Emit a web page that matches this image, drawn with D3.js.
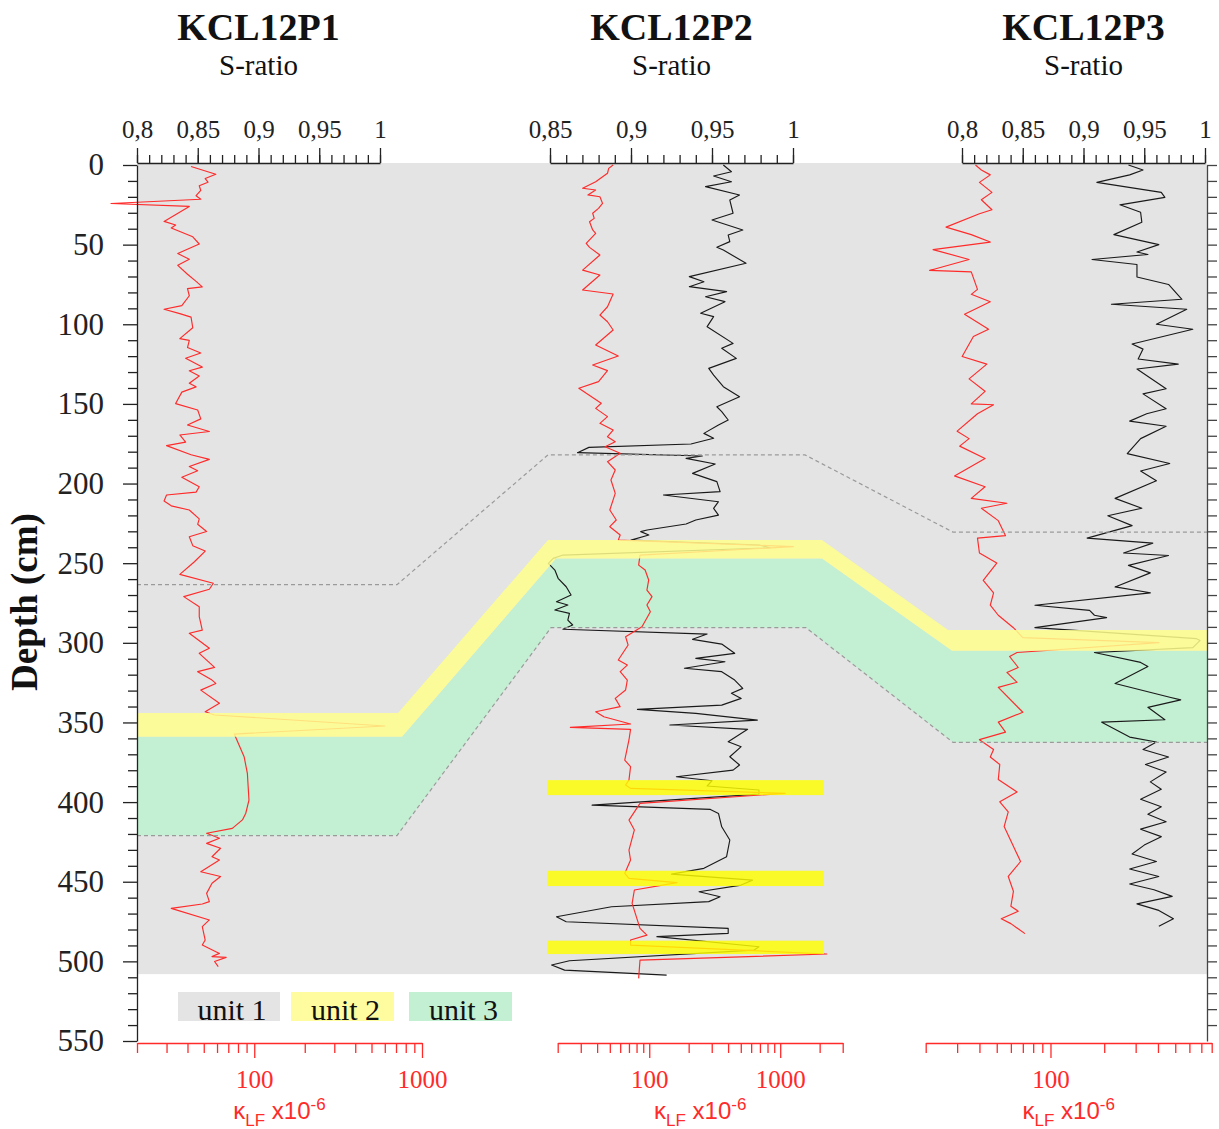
<!DOCTYPE html>
<html>
<head>
<meta charset="utf-8">
<script src="https://cdn.jsdelivr.net/npm/d3@7"></script>
<style>
  body { margin: 0; background: #fff; }
  svg { display: block; }
</style>
</head>
<body>
<svg id="chart" width="1219" height="1129"></svg>
<script>
// ---------------- data ----------------
const cores = ["KCL12P1", "KCL12P2", "KCL12P3"];
const sRatioDomains = [[0.8, 1], [0.85, 1], [0.8, 1]];
const kappaDomains = [[20, 1000], [20, 3000], [20, 800]];
const sRatioMajorTicks = [[0.8, 0.85, 0.9, 0.95, 1], [0.85, 0.9, 0.95, 1], [0.8, 0.85, 0.9, 0.95, 1]];
const kappaLabelTicks = [100, 1000];
const depthMajorTicks = [0, 50, 100, 150, 200, 250, 300, 350, 400, 450, 500, 550];

// unit boundaries per core (cm)
const upperBoundary = [263.5, 182, 230.5];
const unit2Top = [344, 235.5, 292];
const unit3Top = [359, 247, 305];
const unit3Base = [421, 290.5, 362.5];
const coreBase = 508;
// thin unit-2 layers in KCL12P2 (top, bottom, cm)
const p2Layers = [[386.2, 395.6], [443.1, 452.7], [487.0, 495.4]];
const legendLabels = ["unit 1", "unit 2", "unit 3"];

// magnetic susceptibility [depth cm, kappa x1e-6]
const p1Kappa = [[0.9,42],[5.8,59],[8.5,51],[10.8,53],[13.0,47],[16.0,48],[19.3,45],[21.5,48],[24.2,14],[26.0,41],[35.4,29],[37.7,34],[39.5,32],[45.1,43],[49.6,47],[55.6,35],[59.2,41],[63.0,35],[68.6,40],[73.1,45],[76.5,49],[77.6,40],[82.1,41],[88.3,37],[90.6,29],[93.3,36],[95.5,42],[102.2,43],[109.0,36],[110.1,41],[114.6,40],[118.0,48],[121.3,39],[126.9,49],[129.2,41],[132.5,47],[137.0,41],[139.3,45],[142.6,37],[149.8,34],[153.8,46],[159.4,48],[163.2,40],[167.3,54],[169.5,36],[174.0,39],[176.2,30],[181.9,42],[184.8,54],[189.3,41],[192.0,46],[196.0,37],[202.0,47],[205.4,45],[207.2,30],[211.0,29],[214.0,32],[216.6,41],[222.2,47],[225.6,46],[230.1,52],[233.4,41],[239.0,43],[242.4,51],[249.1,44],[257.0,36],[262.6,57],[266.4,54],[271.0,38],[277.3,47],[283.6,47],[292.0,49],[294.0,41],[303.4,54],[306.6,47],[315.4,58],[318.1,46],[323.4,56],[325.5,59],[329.7,48],[338.0,62],[343.3,51],[345.3,58],[352.2,600],[357.3,76],[371.5,87],[382.0,91],[398.7,93],[407.0,89],[411.2,85],[416.5,74],[419.6,52],[422.7,62],[425.9,52],[429.0,63],[434.3,56],[436.4,62],[443.7,48],[446.7,63],[451.0,56],[457.3,52],[462.5,54],[464.0,49],[466.7,32],[474.0,54],[478.2,49],[486.6,51],[489.7,49],[495.0,62],[497.0,56],[497.5,68],[500.1,58],[503.3,61]];

const p2Kappa = [[0,53],[2.1,49],[5.2,48],[10.5,39],[14.6,31],[15.7,39],[18.8,34],[19.9,42],[24.1,44],[27.2,41],[30.3,37],[33.5,38],[35.6,35],[40.8,37],[42.9,39],[49.2,33],[51.7,35],[56.5,42],[66.0,31],[69.1,42],[78.5,31],[81.0,53],[89.0,48],[94.2,42],[98.4,48],[103.6,53],[113.0,39],[119.9,58],[125.6,37],[129.1,48],[136.0,41],[140.2,29],[149.6,43],[152.8,39],[158.0,48],[162.2,42],[166.4,53],[170.6,48],[173.7,55],[176.9,46],[181.0,60],[186.3,48],[191.5,55],[197.8,51],[206.2,55],[216.6,50],[222.9,56],[227.1,50],[232.3,60],[235.5,58],[239.6,1260],[244.9,85],[251.2,83],[254.3,93],[260.6,99],[266.9,96],[271.0,105],[276.3,96],[280.5,102],[289.9,88],[296.2,66],[301.4,69],[310.8,58],[314.0,68],[318.1,60],[323.4,68],[329.6,66],[334.9,55],[340.1,60],[343.3,39],[346.4,45],[351.0,72],[353.1,25],[354.3,72],[361.0,70],[373.6,65],[377.8,72],[386.2,70],[389.3,66],[391.4,72],[394.5,1090],[400.8,85],[411.3,70],[417.5,77],[430.1,70],[436.4,72],[444.8,65],[447.9,70],[450.6,163],[455.2,77],[463.6,74],[479.3,85],[483.5,96],[486.6,72],[489.8,72],[495.4,2270],[499.2,85],[510.7,83]];

const p3Kappa = [[0,38],[3.1,41],[6.2,46],[10.9,40],[17.2,47],[21.8,41],[28.1,47],[30.6,40],[39.0,26],[43.7,36],[48.4,46],[53.1,22],[59.3,35],[66.2,21],[67.1,36],[78.1,39],[81.2,36],[85.9,46],[93.7,33],[103.1,45],[107.7,37],[120.2,32],[125.0,44],[134.3,35],[142.1,43],[150.0,36],[150.5,48],[156.2,39],[167.1,30],[171.8,35],[176.5,31],[184.3,43],[195.2,29],[202,43],[209.3,36],[212.4,57],[215.5,41],[223.3,51],[232.7,56],[234.3,39],[243.6,40],[249.9,50],[260.8,42],[268.6,48],[276.4,46],[282.7,51],[290.5,62],[296.7,70],[299.9,405],[306.1,65],[308.6,59],[315.5,66],[318.6,57],[324.8,65],[328.0,51],[343.6,70],[349.8,51],[356.1,56],[360.8,40],[367.0,48],[371.7,46],[376.4,52],[385.8,51],[393.6,65],[399.8,52],[406.1,58],[415.4,55],[437.3,68],[446.7,58],[456.0,62],[465.4,60],[468.5,66],[473.2,53],[476.3,60],[482.6,72]];

// S-ratio [depth cm, S-ratio]
const p2SRatio = [[0,0.957],[4.2,0.962],[6.9,0.951],[10.5,0.962],[13.6,0.946],[18.8,0.967],[22.0,0.961],[30.3,0.963],[34.5,0.950],[40.8,0.969],[44.0,0.960],[48.1,0.961],[51.7,0.953],[53.4,0.957],[61.7,0.971],[70.1,0.936],[73.3,0.945],[76.4,0.936],[79.5,0.959],[82.7,0.946],[85.8,0.958],[93.1,0.943],[95.2,0.951],[101.5,0.947],[112.0,0.963],[115.1,0.956],[121.4,0.965],[127.7,0.948],[131.9,0.951],[139.2,0.957],[145.5,0.967],[151.8,0.953],[154.9,0.956],[160.1,0.960],[163.3,0.954],[168.5,0.945],[171.6,0.951],[175.2,0.937],[177.3,0.874],[180.6,0.867],[182.7,0.944],[184.2,0.934],[187.7,0.952],[193.6,0.938],[198.8,0.953],[205.1,0.955],[207.2,0.920],[211.4,0.954],[215.6,0.951],[219.8,0.954],[222.9,0.940],[225.4,0.934],[229.2,0.910],[230.2,0.906],[232.3,0.911],[235.5,0.900],[238.6,0.979],[240.3,0.986],[244.9,0.858],[247.0,0.852],[250.1,0.849],[254.3,0.853],[259.5,0.855],[264.8,0.860],[270,0.863],[274.2,0.854],[276.3,0.861],[279.4,0.853],[281.5,0.862],[285.7,0.861],[288.8,0.864],[291.5,0.858],[294.5,0.947],[297.8,0.938],[300.8,0.956],[306.6,0.964],[309.8,0.940],[311.9,0.958],[316.0,0.933],[318.1,0.956],[323.4,0.964],[328.6,0.969],[331.7,0.962],[334.9,0.968],[339.1,0.956],[341.8,0.904],[344.3,0.940],[348.5,0.978],[351.6,0.924],[354.3,0.972],[362.1,0.960],[365.2,0.968],[371.5,0.961],[376.7,0.967],[379.9,0.963],[384.1,0.928],[386.6,0.950],[389.9,0.947],[392.4,0.979],[395,0.979],[401.9,0.876],[404.6,0.949],[407.1,0.954],[415.5,0.956],[423.8,0.961],[434.3,0.959],[441.6,0.945],[445.2,0.925],[449.0,0.975],[452.1,0.968],[456.3,0.942],[459.4,0.955],[462.5,0.948],[465.7,0.888],[472.0,0.854],[475.1,0.860],[479.3,0.960],[482.4,0.960],[484.5,0.916],[490.8,0.979],[492.9,0.976],[499.6,0.862],[502.3,0.851],[505.5,0.859],[508.6,0.922]];

const p3SRatio = [[0,0.937],[3.1,0.949],[6.2,0.938],[10.9,0.911],[17.2,0.964],[20.3,0.967],[25.0,0.930],[29.7,0.947],[35.9,0.948],[43.7,0.925],[50.0,0.962],[54.6,0.944],[56.2,0.953],[59.3,0.907],[62.5,0.944],[70.3,0.944],[75.0,0.970],[84.3,0.981],[87.4,0.923],[90.6,0.985],[100.0,0.960],[103.1,0.990],[112.4,0.940],[115.6,0.949],[121.8,0.945],[125.0,0.978],[128.1,0.944],[140.5,0.968],[143.7,0.949],[153.0,0.968],[156.2,0.952],[160.8,0.938],[164.0,0.968],[171.8,0.947],[181.2,0.936],[187.4,0.971],[192.1,0.947],[198.3,0.960],[209.3,0.926],[215.5,0.948],[220.2,0.920],[226.4,0.940],[234.3,0.903],[237.4,0.957],[243.6,0.933],[245.2,0.970],[251.4,0.937],[256.1,0.955],[264.9,0.926],[268.6,0.955],[276.4,0.860],[279.6,0.905],[282.7,0.909],[284.2,0.919],[290.5,0.860],[297.4,0.993],[298.5,0.996],[303.0,0.990],[306.1,0.909],[312.3,0.947],[314.8,0.953],[325.5,0.926],[334.2,0.971],[335.8,0.980],[340.5,0.953],[348.3,0.967],[349.8,0.915],[359.2,0.938],[362.3,0.960],[367.0,0.949],[371.7,0.970],[376.4,0.951],[381.1,0.968],[387.3,0.955],[392.0,0.964],[398.2,0.947],[402.9,0.964],[407.6,0.953],[412.3,0.968],[417.0,0.947],[421.7,0.964],[427.0,0.950],[432.6,0.940],[437.3,0.960],[442.0,0.938],[446.7,0.962],[451.4,0.938],[455.0,0.958],[459.2,0.973],[463.9,0.944],[468.0,0.962],[473.2,0.974],[477.9,0.962]];

const kappaSeries = [p1Kappa, p2Kappa, p3Kappa];
const sRatioSeries = [null, p2SRatio, p3SRatio];

// ---------------- layout ----------------
const svg = d3.select("#chart");
const serif = "'Liberation Serif', 'Times New Roman', serif";
const sans = "'Liberation Sans', Arial, sans-serif";
const RED = "#ff2a2a";
const plotLeft = 137, plotRight = 1207;

const y = d3.scaleLinear().domain([0, 550]).range([165, 1041]);

const panelLayout = [
  { sRange: [137, 380], kRange: [137, 422], cx: 258.5 },
  { sRange: [550, 793], kRange: [557.7, 842.7], cx: 671.5 },
  { sRange: [962, 1205], kRange: [925.7, 1211.7], cx: 1083.5 }
];
const sScales = panelLayout.map((p, i) => d3.scaleLinear().domain(sRatioDomains[i]).range(p.sRange));
const kScales = panelLayout.map((p, i) => d3.scaleLog().domain(kappaDomains[i]).range(p.kRange));

// bend positions of the correlated unit boundaries between the cores
const bends = {
  upper: [397, 548, 805, 953],
  u2top: [398, 548, 822, 948],
  u3top: [402, 556, 822, 952],
  u3base: [397, 551, 806, 953]
};
function boundary(depths, b) {
  return [[plotLeft, depths[0]], [b[0], depths[0]], [b[1], depths[1]], [b[2], depths[1]], [b[3], depths[2]], [plotRight, depths[2]]];
}
const bLine = d3.line().x(d => d[0]).y(d => y(d[1]));
function band(top, bottom) {
  return bLine(top.concat(bottom.slice().reverse())) + "Z";
}

const upperLine = boundary(upperBoundary, bends.upper);
const u2TopLine = boundary(unit2Top, bends.u2top);
const u3TopLine = boundary(unit3Top, bends.u3top);
const u3BaseLine = boundary(unit3Base, bends.u3base);

// unit 1 background
svg.append("rect")
  .attr("x", plotLeft).attr("y", y(0) - 2)
  .attr("width", plotRight - plotLeft).attr("height", y(coreBase) - y(0) + 2)
  .attr("fill", "#e4e4e4");

// unit 3
svg.append("path").attr("d", band(u3TopLine, u3BaseLine)).attr("fill", "#c3efd3");

// traces
panelLayout.forEach((p, i) => {
  const s = sRatioSeries[i];
  if (s) {
    svg.append("path").datum(s)
      .attr("d", d3.line().x(d => sScales[i](d[1])).y(d => y(d[0])))
      .attr("fill", "none").attr("stroke", "#1a1a1a").attr("stroke-width", 1.15)
      .attr("stroke-linejoin", "round");
  }
  svg.append("path").datum(kappaSeries[i])
    .attr("d", d3.line().x(d => kScales[i](d[1])).y(d => y(d[0])))
    .attr("fill", "none").attr("stroke", RED).attr("stroke-width", 1.15)
    .attr("stroke-linejoin", "round");
});

// unit 2 (semi-transparent, lies over the curves)
svg.append("path").attr("d", band(u2TopLine, u3TopLine))
  .attr("fill", "#ffff8c").attr("fill-opacity", 0.85);
svg.selectAll("rect.layer").data(p2Layers).join("rect")
  .attr("class", "layer")
  .attr("x", 547).attr("width", 824 - 547)
  .attr("y", d => y(d[0])).attr("height", d => y(d[1]) - y(d[0]))
  .attr("fill", "#ffff00").attr("fill-opacity", 0.82);

// dashed boundaries
[upperLine, u3BaseLine].forEach(l => {
  svg.append("path").attr("d", bLine(l))
    .attr("fill", "none").attr("stroke", "#9a9a9a").attr("stroke-width", 1.2)
    .attr("stroke-dasharray", "4,3");
});

// ---------------- axes ----------------
function styleAxis(g, color, fontSize, family) {
  g.select(".domain").attr("stroke", color).attr("stroke-width", 1.3);
  g.selectAll(".tick line").attr("stroke", color).attr("stroke-width", 1.3);
  g.selectAll(".tick text").attr("fill", color).attr("font-size", fontSize).attr("font-family", family);
}
const commaFmt = v => String(Math.round(v * 100) / 100).replace(".", ",");

panelLayout.forEach((p, i) => {
  const sc = sScales[i];
  const minor = d3.range(Math.round(sRatioDomains[i][0] * 100), 101).map(v => v / 100);
  const gMinor = svg.append("g").attr("transform", "translate(0,163)")
    .call(d3.axisTop(sc).tickValues(minor).tickSize(8).tickSizeOuter(0).tickFormat(""));
  styleAxis(gMinor, "#222", 25, serif);
  const gMajor = svg.append("g").attr("transform", "translate(0,163)")
    .call(d3.axisTop(sc).tickValues(sRatioMajorTicks[i]).tickSize(15).tickSizeOuter(0).tickPadding(10).tickFormat(commaFmt));
  styleAxis(gMajor, "#222", 25, serif);
  gMajor.select(".domain").remove();

  // kappa axis (log)
  const ks = kScales[i];
  const [k0, k1] = kappaDomains[i];
  const kTicks = [];
  [10, 100, 1000].forEach(dec => { for (let m = 1; m <= 9; m++) { const v = m * dec; if (v >= k0 - 1e-9 && v <= k1 + 1e-9) kTicks.push(v); } });
  const gkMinor = svg.append("g").attr("transform", "translate(0,1043)")
    .call(d3.axisBottom(ks).tickValues(kTicks.filter(v => !kappaLabelTicks.includes(v))).tickSize(10).tickSizeOuter(0).tickFormat(""));
  styleAxis(gkMinor, RED, 25, serif);
  const gkMajor = svg.append("g").attr("transform", "translate(0,1043)")
    .call(d3.axisBottom(ks).tickValues(kappaLabelTicks.filter(v => v >= k0 && v <= k1)).tickSize(15).tickSizeOuter(0).tickPadding(12).tickFormat(d3.format("d")));
  styleAxis(gkMajor, RED, 25, serif);
  gkMajor.select(".domain").remove();

  const kx = (p.kRange[0] + p.kRange[1]) / 2;
  const lab = svg.append("text").attr("x", kx).attr("y", 1119)
    .attr("text-anchor", "middle").attr("fill", RED).attr("font-family", sans).attr("font-size", 24);
  lab.append("tspan").text("κ");
  lab.append("tspan").attr("font-size", 17).attr("dy", 7).text("LF");
  lab.append("tspan").attr("dy", -7).text(" x10");
  lab.append("tspan").attr("font-size", 17).attr("dy", -9).text("-6");

  // titles
  svg.append("text").attr("x", p.cx).attr("y", 40).attr("text-anchor", "middle")
    .attr("font-family", serif).attr("font-weight", "bold").attr("font-size", 38).attr("fill", "#111")
    .text(cores[i]);
  svg.append("text").attr("x", p.cx).attr("y", 75).attr("text-anchor", "middle")
    .attr("font-family", serif).attr("font-size", 29).attr("fill", "#111")
    .text("S-ratio");
});

// depth axis (left)
const gDepthMinor = svg.append("g").attr("transform", `translate(${plotLeft},0)`)
  .call(d3.axisLeft(y).tickValues(d3.range(0, 551, 10).filter(v => v % 50 !== 0)).tickSize(9).tickSizeOuter(0).tickFormat(""));
styleAxis(gDepthMinor, "#222", 31, serif);
const gDepthMajor = svg.append("g").attr("transform", `translate(${plotLeft},0)`)
  .call(d3.axisLeft(y).tickValues(depthMajorTicks).tickSize(14).tickSizeOuter(0).tickPadding(19).tickFormat(d3.format("d")));
styleAxis(gDepthMajor, "#222", 31, serif);
gDepthMajor.select(".domain").remove();

// depth axis (right, unlabelled)
const gRight = svg.append("g").attr("transform", `translate(${plotRight},0)`)
  .call(d3.axisRight(y).tickValues(d3.range(0, 541, 10)).tickSize(10).tickSizeOuter(0).tickFormat(""));
styleAxis(gRight, "#444", 12, serif);

svg.append("text")
  .attr("transform", "translate(37,602) rotate(-90)")
  .attr("text-anchor", "middle").attr("font-family", serif).attr("font-weight", "bold")
  .attr("font-size", 37).attr("fill", "#111").text("Depth (cm)");

// ---------------- legend ----------------
const legendFills = ["#e4e4e4", "#fffca0", "#c3efd3"];
const legendX = [178, 291, 409];
const legendW = [102, 103, 103];
legendLabels.forEach((t, i) => {
  svg.append("rect").attr("x", legendX[i]).attr("y", 992).attr("width", legendW[i]).attr("height", 29)
    .attr("fill", legendFills[i]);
  svg.append("text").attr("x", legendX[i] + legendW[i] / 2 + 3).attr("y", 1020)
    .attr("text-anchor", "middle").attr("font-family", serif).attr("font-size", 30).attr("fill", "#111")
    .text(t);
});
</script>
</body>
</html>
